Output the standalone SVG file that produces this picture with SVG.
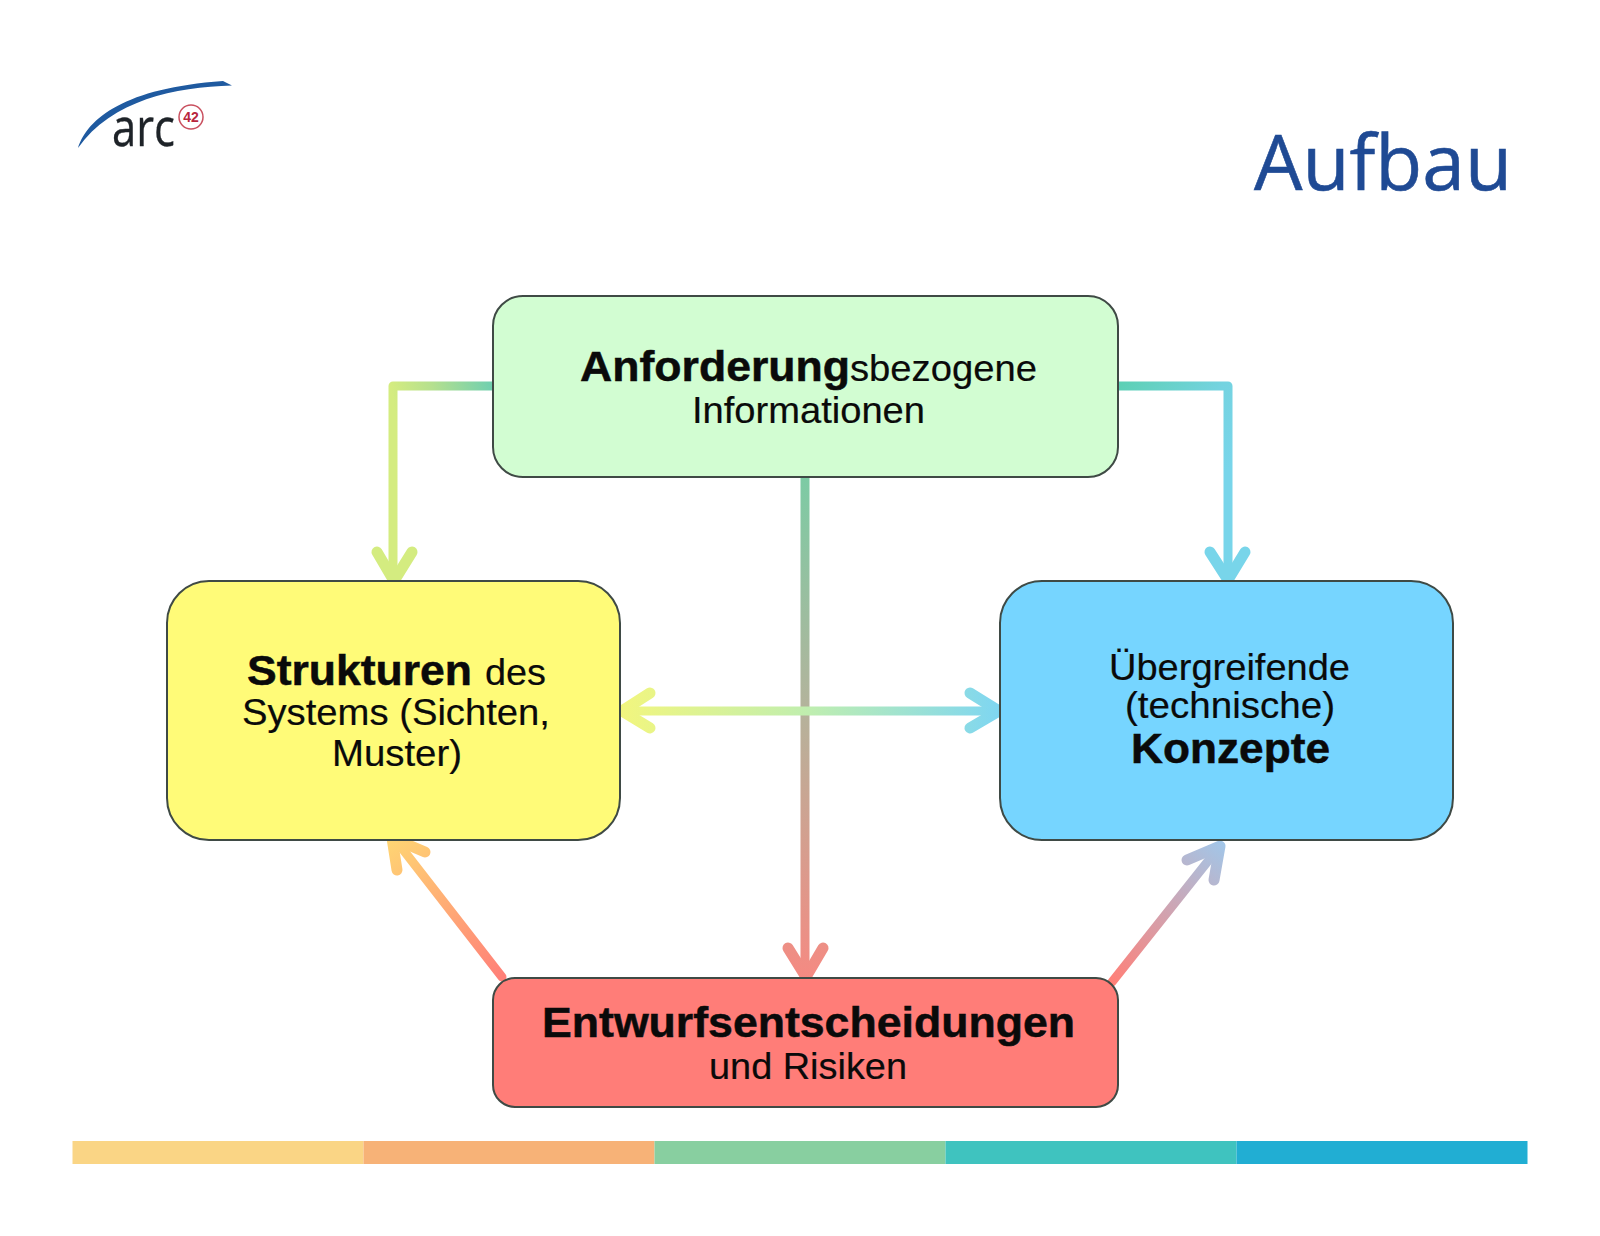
<svg xmlns="http://www.w3.org/2000/svg" width="1600" height="1236" viewBox="0 0 1600 1236">
<style>
.box{stroke:#3f4a45;stroke-width:2}
.t{font-family:"Liberation Sans",Arial,sans-serif;fill:#0a0a0a;font-size:37px;stroke:#0a0a0a;stroke-width:.2}
.b{font-weight:700;font-size:42px;stroke-width:.5}
.c{fill:none;stroke-width:9;stroke-linecap:round;stroke-linejoin:round}
.h{fill:none;stroke-width:11;stroke-linecap:round;stroke-linejoin:round}
</style>
<defs>
<linearGradient id="g1" gradientUnits="userSpaceOnUse" x1="493" y1="386" x2="393" y2="400"><stop offset="0" stop-color="#6fcfb0"/><stop offset=".6" stop-color="#b5e08e"/><stop offset="1" stop-color="#d4ec80"/></linearGradient>
<linearGradient id="g2" gradientUnits="userSpaceOnUse" x1="1117" y1="386" x2="1228" y2="470"><stop offset="0" stop-color="#5dd0b4"/><stop offset=".6" stop-color="#74d3e0"/><stop offset="1" stop-color="#78d5ea"/></linearGradient>
<linearGradient id="g3" gradientUnits="userSpaceOnUse" x1="805" y1="476" x2="805" y2="978"><stop offset="0" stop-color="#7ccba4"/><stop offset=".45" stop-color="#b2b49c"/><stop offset="1" stop-color="#f58a82"/></linearGradient>
<linearGradient id="g4" gradientUnits="userSpaceOnUse" x1="620" y1="711" x2="1001" y2="711"><stop offset="0" stop-color="#f2f67e"/><stop offset=".5" stop-color="#bfeeb0"/><stop offset="1" stop-color="#7ed6f2"/></linearGradient>
<linearGradient id="g5" gradientUnits="userSpaceOnUse" x1="502" y1="977" x2="392" y2="835"><stop offset="0" stop-color="#ff8078"/><stop offset="1" stop-color="#ffd673"/></linearGradient>
<linearGradient id="g6" gradientUnits="userSpaceOnUse" x1="1112" y1="982" x2="1222" y2="842"><stop offset="0" stop-color="#ff8078"/><stop offset="1" stop-color="#a2c6e8"/></linearGradient>
</defs>
<rect width="1600" height="1236" fill="#fff"/>
<g id="logo">
<path d="M78 148C88 118 125 88 223 81L232 85.500C175 87 112 100 78 148Z" fill="#1f5aa0"/>
<text transform="translate(112 146) scale(1 1.15)" style="font-family:'Open Sans',sans-serif;font-size:46px;fill:#1e2328;stroke:#1e2328;stroke-width:.3" textLength="63" lengthAdjust="spacingAndGlyphs">arc</text>
<circle cx="191" cy="117" r="12" fill="#fff" stroke="#c9505f" stroke-width="1.500"/>
<text x="191" y="122" style="font-family:'Liberation Sans',sans-serif;font-weight:700;font-size:14px;fill:#b8263c;text-anchor:middle">42</text>
</g>
<text id="title" x="1254" y="190" style="font-family:'Open Sans',sans-serif;font-size:76px;fill:#1f4a94;stroke:#1f4a94;stroke-width:.6" textLength="258" lengthAdjust="spacingAndGlyphs">Aufbau</text>
<g id="connectors">
<path class="c" stroke="url(#g1)" d="M493 386H393V580"/>
<path class="h" stroke="url(#g1)" d="M377 552L394 581L412 552"/>
<path class="c" stroke="url(#g2)" d="M1117 386H1228V578"/>
<path class="h" stroke="url(#g2)" d="M1210 552L1228 580L1245 552"/>
<path class="c" stroke="url(#g3)" d="M805 476V975"/>
<path class="h" stroke="url(#g3)" d="M788 948L806 977L823 948"/>
<path class="c" stroke="url(#g4)" d="M622 711H999"/>
<path class="h" stroke="url(#g4)" d="M650 693L622 711L650 728"/>
<path class="h" stroke="url(#g4)" d="M970 693L999 711L970 728"/>
<path class="c" stroke="url(#g5)" d="M502 977L394 838"/>
<path class="h" stroke="url(#g5)" d="M397 870L392 838L425 852"/>
<path class="c" stroke="url(#g6)" d="M1112 982L1220 846"/>
<path class="h" stroke="url(#g6)" d="M1187 860L1220 846L1214 880"/>
</g>
<g id="node-anforderung">
<rect class="box" x="493" y="296" width="625" height="181" rx="30" fill="#d2fdd2"/>
<text class="t b" x="580" y="381" textLength="270" lengthAdjust="spacingAndGlyphs">Anforderung</text>
<text class="t" x="850" y="381" textLength="187" lengthAdjust="spacingAndGlyphs">sbezogene</text>
<text class="t" x="692" y="423" textLength="233" lengthAdjust="spacingAndGlyphs">Informationen</text>
</g>
<g id="node-strukturen">
<rect class="box" x="167" y="581" width="453" height="259" rx="42" fill="#fffb78"/>
<text class="t b" x="247" y="685" textLength="225" lengthAdjust="spacingAndGlyphs">Strukturen</text>
<text class="t" x="485" y="685" textLength="61" lengthAdjust="spacingAndGlyphs">des</text>
<text class="t" x="242" y="725" textLength="308" lengthAdjust="spacingAndGlyphs">Systems (Sichten,</text>
<text class="t" x="332" y="766" textLength="130" lengthAdjust="spacingAndGlyphs">Muster)</text>
</g>
<g id="node-konzepte">
<rect class="box" x="1000" y="581" width="453" height="259" rx="42" fill="#76d5ff"/>
<text class="t" x="1109" y="680" textLength="241" lengthAdjust="spacingAndGlyphs">Übergreifende</text>
<text class="t" x="1125" y="718" textLength="210" lengthAdjust="spacingAndGlyphs">(technische)</text>
<text class="t b" x="1131" y="763" textLength="199" lengthAdjust="spacingAndGlyphs">Konzepte</text>
</g>
<g id="node-entwurf">
<rect class="box" x="493" y="978" width="625" height="129" rx="22" fill="#ff7d78"/>
<text class="t b" x="542" y="1037" textLength="533" lengthAdjust="spacingAndGlyphs">Entwurfsentscheidungen</text>
<text class="t" x="709" y="1079" textLength="198" lengthAdjust="spacingAndGlyphs">und Risiken</text>
</g>
<g id="footer-bar">
<rect x="72.500" y="1141" width="291" height="23" fill="#fad585"/>
<rect x="363.500" y="1141" width="291" height="23" fill="#f7b277"/>
<rect x="654.500" y="1141" width="291" height="23" fill="#88cfa0"/>
<rect x="945.500" y="1141" width="291" height="23" fill="#3fc3bf"/>
<rect x="1236.500" y="1141" width="291" height="23" fill="#21aed3"/>
</g>
</svg>
